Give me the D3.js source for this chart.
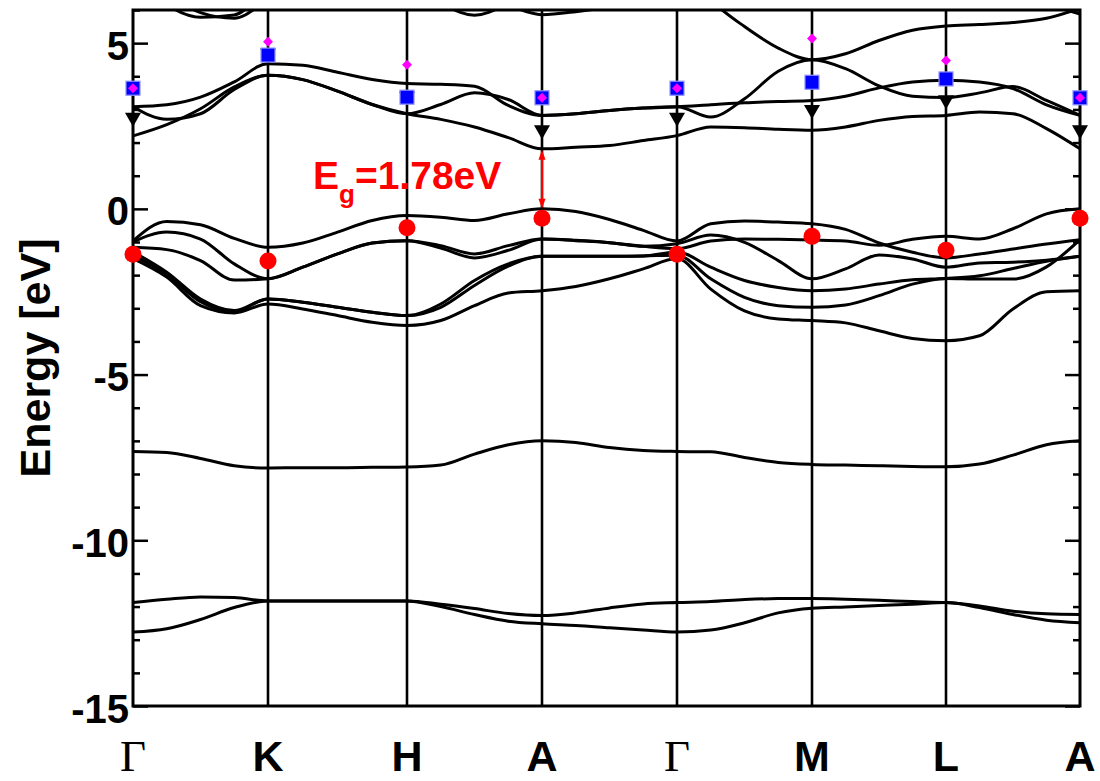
<!DOCTYPE html>
<html><head><meta charset="utf-8">
<script src="https://cdn.jsdelivr.net/npm/d3@7"></script>
<style>body{margin:0;background:#fff} svg{display:block}</style>
</head><body><svg id="c" width="1100" height="781"></svg>
<script>
// ---------- data ----------
const kLabels = ["Γ","K","H","A","Γ","M","L","A"];
const kPath = [0,135,274,409,544,679,813,947];   // path length of high-symmetry points
const eMajor = [5,0,-5,-10,-15];
const eMinor = [-14,-13,-12,-11,-9,-8,-7,-6,-4,-3,-2,-1,1,2,3,4,6];
// band energies (eV) sampled at quarter points of each segment Γ-K-H-A-Γ-M-L-A (29 values)
const deep1 = [-11.88,-11.78,-11.71,-11.73,-11.83, -11.83,-11.83,-11.83,-11.83, -11.93,-12.06,-12.21,-12.27, -12.19,-12.04,-11.92,-11.88, -11.85,-11.79,-11.76,-11.76, -11.78,-11.81,-11.85,-11.88, -11.98,-12.14,-12.22,-12.24];
const deep2 = [-12.77,-12.67,-12.39,-12.03,-11.83, -11.83,-11.83,-11.83,-11.83, -12.0,-12.24,-12.44,-12.52, -12.57,-12.64,-12.71,-12.77, -12.71,-12.49,-12.19,-12.05, -12.01,-11.97,-11.93,-11.88, -12.03,-12.24,-12.41,-12.49];
const sBand = [-7.32,-7.35,-7.53,-7.75,-7.82, -7.81,-7.81,-7.80,-7.79, -7.73,-7.40,-7.12,-7.00, -7.05,-7.20,-7.29,-7.32, -7.33,-7.50,-7.65,-7.71, -7.73,-7.75,-7.77,-7.78, -7.70,-7.43,-7.12,-7.00];
const vb1 = [-0.97,-0.38,-0.48,-0.89,-1.16, -1.03,-0.70,-0.35,-0.20, -0.25,-0.35,-0.15,0.0, -0.08,-0.32,-0.65,-0.97, -0.45,-0.37,-0.40,-0.45, -0.62,-1.03,-1.31,-1.48, -1.36,-1.21,-1.06,-0.93];
const vb2 = [-1.0,-0.70,-0.91,-1.66,-2.11, -1.76,-1.36,-1.03,-0.96, -1.11,-1.36,-1.11,-0.91, -0.96,-1.02,-1.13,-1.05, -0.79,-1.01,-1.56,-2.11, -1.81,-1.39,-1.51,-1.76, -1.63,-1.61,-1.55,-1.43];
const vb3 = [-1.16,-1.23,-1.56,-2.15,-2.11, -1.76,-1.36,-1.03,-0.96, -1.18,-1.48,-1.25,-0.91, -0.95,-1.02,-1.13,-1.2, -0.97,-0.91,-0.92,-0.94, -0.97,-1.10,-0.92,-0.83, -0.91,-0.60,-0.15,0.0];
const vb4 = [-1.3,-1.91,-2.72,-3.07,-2.72, -2.82,-2.97,-3.12,-3.22, -2.87,-2.16,-1.66,-1.43, -1.43,-1.43,-1.42,-1.3, -1.76,-2.16,-2.37,-2.47, -2.42,-2.27,-2.14,-2.10, -2.02,-1.80,-1.58,-1.43];
const vb5 = [-1.4,-1.98,-2.80,-3.10,-2.72, -2.82,-2.97,-3.12,-3.22, -2.97,-2.31,-1.73,-1.43, -1.43,-1.43,-1.42,-1.4, -2.11,-2.67,-2.92,-2.97, -2.90,-2.62,-2.27,-2.10, -2.12,-2.12,-1.75,-0.93];
const vb6 = [-1.5,-2.06,-2.92,-3.14,-2.87, -3.02,-3.22,-3.42,-3.52, -3.37,-2.92,-2.54,-2.47, -2.34,-2.11,-1.81,-1.5, -2.42,-3.08,-3.32,-3.37, -3.44,-3.68,-3.91,-3.98, -3.83,-3.02,-2.50,-2.47];
const cb1 = [2.20,2.54,3.02,3.68,4.03, 3.90,3.55,3.15,2.87, 2.70,2.47,2.15,1.81, 1.86,1.91,2.06,2.21, 2.47,2.45,2.40,2.37, 2.47,2.67,2.79,2.82, 2.92,2.87,2.42,1.81];
const cb2 = [3.08,2.70,2.87,3.60,4.03, 3.90,3.55,3.15,2.87, 3.15,3.50,3.30,2.82, 2.87,2.97,3.04,3.08, 2.77,3.32,4.15,4.50, 4.23,3.71,3.40,3.36, 3.50,3.69,3.27,2.82];
const cb3 = [3.08,3.14,3.37,3.83,4.38, 4.33,4.12,3.90,3.78, 3.76,3.70,3.12,2.82, 2.87,2.97,3.04,3.08, 3.14,3.20,3.24,3.27, 3.40,3.65,3.83,3.88, 3.83,3.63,3.14,2.82];
const cb4 = [7.5,6.9,6.6,6.5,6.6, 6.8,7.0,7.0,7.0, 6.8,6.5,6.3,6.4, 6.6,6.9,7.2,7.5, 6.3,5.5,4.85,4.50, 4.68,5.08,5.39,5.52, 5.56,5.62,5.75,6.05];
const cb5 = [7.0,6.15,5.78,5.85,6.6, 6.9,7.1,7.0,6.8, 6.2,5.84,6.2,6.8, 7.0,7.2,7.3,7.3, 7.6,7.8,7.8,7.7, 7.6,7.5,7.4,7.3, 7.2,7.1,7.0,6.9];
const cb6 = [7.3,6.5,5.92,5.75,6.3, 6.8,7.1,7.3,7.5, 7.0,6.6,6.15,5.86, 5.95,6.1,6.4,7.0, 7.3,7.5,7.5,7.5, 7.3,7.0,6.8,6.6, 6.5,6.3,6.15,5.88];
// markers at high-symmetry points
const vbmDots   = [-1.37,-1.57,-0.57,-0.28,-1.37,-0.83,-1.25,-0.28];
const cbSquares = [3.64,4.64,3.37,3.35,3.64,3.82,3.92,3.35];
const cbDiamonds= [3.64,5.04,4.35,3.35,3.64,5.14,4.48,3.35];
const cbTriangles=[2.72,4.66,3.35,2.34,2.72,2.95,3.25,2.34];
const gapArrow = {k: 409, from: 0.0, to: 1.78};
const gapText = ["E","g","=1.78eV"];

// ---------- drawing ----------
const svg = d3.select("#c");
const L = 133, R = 1080, T = 10, B = 706;
const x = d3.scaleLinear().domain([0, 947]).range([L, R]);
const y = d3.scaleLinear().domain([-15, 6]).range([B, T]);

svg.append("defs").append("clipPath").attr("id","clip")
  .append("rect").attr("x",L).attr("y",T).attr("width",R-L).attr("height",B-T);

function kAt(i){
  const s = Math.floor(i/4), f = (i%4)/4;
  if (s >= 7) return kPath[7];
  return kPath[s] + f*(kPath[s+1]-kPath[s]);
}
const allBands = [deep1, deep2, sBand, vb1, vb2, vb3, vb4, vb5, vb6, cb1, cb2, cb3, cb4, cb5, cb6];
const line = d3.line().x((d,i)=>x(kAt(i))).y(d=>y(d)).curve(d3.curveMonotoneX);

// vertical high-symmetry lines
svg.append("g").selectAll("line").data(kPath.slice(1,-1)).join("line")
  .attr("x1",d=>x(d)).attr("x2",d=>x(d)).attr("y1",T).attr("y2",B)
  .attr("stroke","#000").attr("stroke-width",2.6);

svg.append("g").attr("clip-path","url(#clip)").selectAll("path").data(allBands).join("path")
  .attr("d",line).attr("fill","none").attr("stroke","#000").attr("stroke-width",3);

// axes
const font = "'Liberation Sans', Arial, Helvetica, sans-serif";
const gl = svg.append("g").attr("transform",`translate(${L},0)`)
  .call(d3.axisLeft(y).tickValues(eMajor).tickSizeInner(-15).tickSizeOuter(0).tickPadding(4).tickFormat(d=>String(d)));
gl.selectAll("text").attr("font-family",font).attr("font-weight","bold").attr("font-size",40).attr("fill","#000").attr("dy","0.40em");
svg.append("g").attr("transform",`translate(${L},0)`)
  .call(d3.axisLeft(y).tickValues(eMinor).tickSizeInner(-7).tickSizeOuter(0).tickFormat(""));
svg.append("g").attr("transform",`translate(${R},0)`)
  .call(d3.axisRight(y).tickValues(eMajor).tickSizeInner(-15).tickSizeOuter(0).tickFormat(""));
svg.append("g").attr("transform",`translate(${R},0)`)
  .call(d3.axisRight(y).tickValues(eMinor).tickSizeInner(-7).tickSizeOuter(0).tickFormat(""));
svg.selectAll(".domain").remove();
svg.selectAll(".tick line").attr("stroke","#000").attr("stroke-width",2.5);

svg.append("rect").attr("x",L).attr("y",T).attr("width",R-L).attr("height",B-T)
  .attr("fill","none").attr("stroke","#000").attr("stroke-width",3);

// x labels
svg.append("g").selectAll("text").data(kLabels).join("text")
  .attr("x",(d,i)=>x(kPath[i])).attr("y",771).attr("text-anchor","middle")
  .attr("font-family",d=>d==="Γ" ? "'Liberation Serif','Times New Roman',serif" : font)
  .attr("font-weight",d=>d==="Γ" ? "normal" : "bold")
  .attr("font-size",d=>d==="Γ" ? 45 : 43).text(d=>d);

// y label
svg.append("text").attr("transform",`translate(50,${(T+B)/2}) rotate(-90)`)
  .attr("text-anchor","middle").attr("font-family",font).attr("font-weight","bold")
  .attr("font-size",43).text("Energy [eV]");

// markers
const mk = svg.append("g");
mk.selectAll("path.tri").data(cbTriangles).join("path").attr("class","tri")
  .attr("transform",(d,i)=>`translate(${x(kPath[i])},${y(d)})`)
  .attr("d","M-8,-6L8,-6L0,8Z").attr("fill","#000");
mk.selectAll("rect.sq").data(cbSquares).join("rect").attr("class","sq")
  .attr("x",(d,i)=>x(kPath[i])-7).attr("y",d=>y(d)-7).attr("width",14).attr("height",14)
  .attr("fill","#0000ff").attr("stroke","#9090ff").attr("stroke-width",1.2);
mk.selectAll("path.dm").data(cbDiamonds).join("path").attr("class","dm")
  .attr("transform",(d,i)=>`translate(${x(kPath[i])},${y(d)})`)
  .attr("d","M0,-5L5,0L0,5L-5,0Z").attr("fill","#ff00ff");
mk.selectAll("circle").data(vbmDots).join("circle")
  .attr("cx",(d,i)=>x(kPath[i])).attr("cy",d=>y(d)).attr("r",8.5).attr("fill","#ff0000");

// gap arrow
const ax = x(gapArrow.k), y0 = y(gapArrow.from), y1 = y(gapArrow.to);
svg.append("line").attr("x1",ax).attr("x2",ax).attr("y1",y0-8).attr("y2",y1+8)
  .attr("stroke","#ff0000").attr("stroke-width",2);
svg.append("path").attr("d",`M${ax-3.5},${y1+10}L${ax+3.5},${y1+10}L${ax},${y1}Z`).attr("fill","#ff0000");
svg.append("path").attr("d",`M${ax-3.5},${y0-10}L${ax+3.5},${y0-10}L${ax},${y0}Z`).attr("fill","#ff0000");

const t = svg.append("text").attr("x",313).attr("y",189).attr("fill","#ff0000")
  .attr("font-family",font).attr("font-weight","bold").attr("font-size",39);
t.append("tspan").text(gapText[0]);
t.append("tspan").attr("font-size",26).attr("dy",14).text(gapText[1]);
t.append("tspan").attr("dy",-14).text(gapText[2]);
</script></body></html>
